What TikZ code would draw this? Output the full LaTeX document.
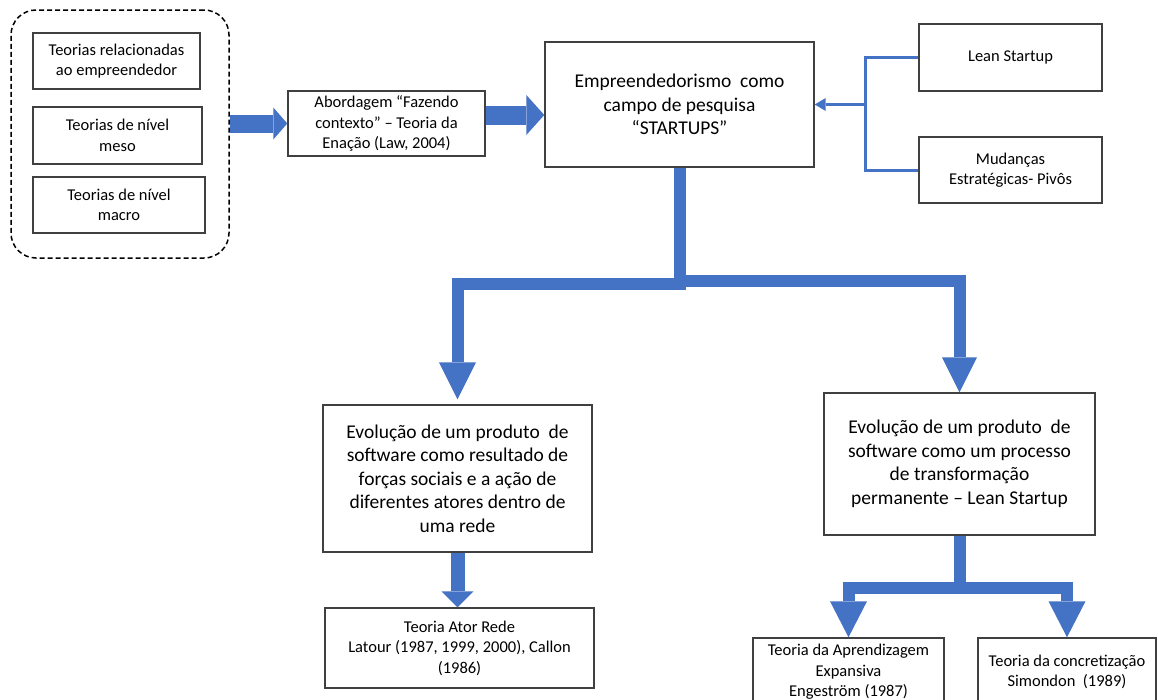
\documentclass[tikz,border=0pt]{standalone}
\usepackage{fontspec}
\setmainfont{Carlito}
\usetikzlibrary{arrows.meta}
\definecolor{flowblue}{HTML}{4472C4}
\definecolor{edgegray}{HTML}{404040}

\begin{document}
\begin{tikzpicture}[x=1pt,y=-1pt,
  box/.style={draw=edgegray, line width=1.4pt, fill=white, align=center, inner sep=0pt},
  small/.style={font=\fontsize{16.5}{20.5}\selectfont},
  large/.style={font=\fontsize{19.5}{23.5}\selectfont},
  group/.style={draw=black, line width=1.5pt, dash pattern=on 5pt off 3pt,
                rounded corners=25pt, inner sep=0pt},
  fatarrow/.style={draw=flowblue, line width=#1, line join=miter},
  thinline/.style={draw=flowblue, line width=3pt, line join=miter},
  tip/.style 2 args={-{Triangle[width=#1,length=#2,line width=0pt]}}
]
\useasboundingbox (0,0) rectangle (1158,699);
\clip (0,0) rectangle (1158,699);

% theory group on the left
\node[group, minimum width=218pt, minimum height=248pt] (grp) at (120,134) {};
\node[box, small, minimum width=167pt, minimum height=56pt] (t1) at (116.5,61)
  {Teorias relacionadas\\ao empreendedor};
\node[box, small, minimum width=169pt, minimum height=57pt] (t2) at (117.5,135.5)
  {Teorias de nível\\meso};
\node[box, small, minimum width=172pt, minimum height=56pt] (t3) at (119,205)
  {Teorias de nível\\macro};

% top row
\node[box, small, minimum width=197pt, minimum height=65pt] (ab) at (386.5,123.5)
  {Abordagem “Fazendo\\contexto” – Teoria da\\Enação (Law, 2004)};
\node[box, large, minimum width=269pt, minimum height=125pt] (em) at (679.5,104.5)
  {Empreendedorismo~ como\\campo de pesquisa\\“STARTUPS”};
\node[box, small, minimum width=183pt, minimum height=67pt] (lean) at (1010.5,57.5)
  {Lean Startup};
\node[box, small, minimum width=183pt, minimum height=66pt] (mud) at (1010.5,170)
  {Mudanças\\Estratégicas- Pivôs};

% middle row
\node[box, large, minimum width=269pt, minimum height=147pt] (ev1) at (457.5,478.5)
  {Evolução de um produto~ de\\software como resultado de\\forças sociais e a ação de\\diferentes atores dentro de\\uma rede};
\node[box, large, minimum width=271pt, minimum height=142pt] (ev2) at (959.5,464)
  {Evolução de um produto~ de\\software como um processo\\de transformação\\permanente – Lean Startup};

% bottom row
\node[box, small, minimum width=269pt, minimum height=80pt] (ator) at (459.5,648)
  {Teoria Ator Rede\\Latour (1987, 1999, 2000), Callon\\(1986)};
\node[box, small, minimum width=191pt, minimum height=68pt] (apr) at (848.5,672)
  {Teoria da Aprendizagem\\Expansiva\\Engeström (1987)};
\node[box, small, minimum width=178pt, minimum height=68pt] (conc) at (1067,672)
  {Teoria da concretização\\Simondon~ (1989)};

% block arrows along the top row
\draw[fatarrow=18pt, tip={32pt}{14pt}] (grp.east |- ab.west) -- (ab.west);
\draw[fatarrow=19pt, tip={40pt}{18pt}] ([yshift=8.5pt]ab.east) -- ([yshift=8.5pt]ab.east -| em.west);

% thin bracket feeding the research field box
\coordinate (j) at ([xshift=51pt]em.east);
\draw[thinline] (lean.west) -| (j) |- (mud.west);
\draw[thinline, tip={13pt}{11pt}] (j) -- (em.east);

% split into the two evolution views
\draw[fatarrow=12pt, tip={37pt}{37pt}] (em.south) |- (ev1.north |- 0,284) -- ([yshift=5pt]ev1.north);
\draw[fatarrow=12pt, tip={35pt}{35pt}] (em.south) |- (ev2.north |- 0,281) -- (ev2.north);

% down to the supporting theories
\draw[fatarrow=14pt, tip={32pt}{16pt}] (ev1.south) -- (ev1.south |- ator.north);
\draw[fatarrow=12pt, tip={37pt}{36pt}] (ev2.south) |- (apr.north |- 0,587.5) -- (apr.north);
\draw[fatarrow=12pt, tip={37pt}{36pt}] (ev2.south) |- (conc.north |- 0,587.5) -- (conc.north);
\end{tikzpicture}
\end{document}
